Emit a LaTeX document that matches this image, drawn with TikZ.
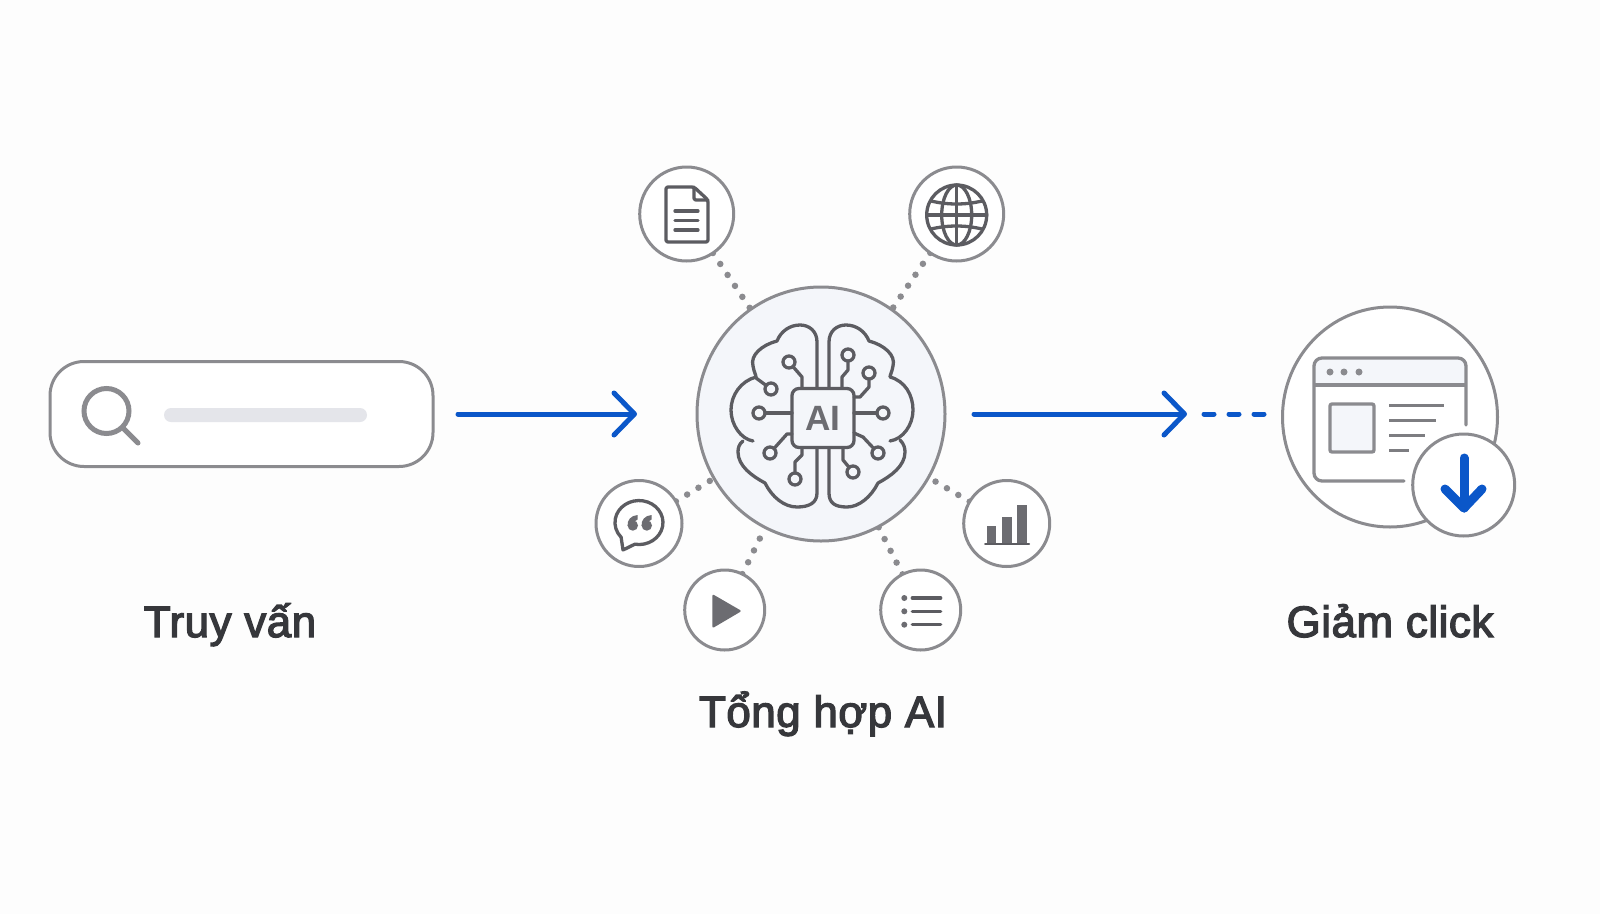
\documentclass[tikz,border=0pt]{standalone}
\usepackage{fontspec}
\setmainfont{Liberation Sans}
\newfontfamily\labelfont[FakeBold=3,LetterSpace=1.2]{Liberation Sans}
\usetikzlibrary{arrows.meta,backgrounds,calc,shapes.geometric}
\definecolor{pagebg}{HTML}{FDFDFD}
\definecolor{ringcol}{HTML}{8B8B8F}
\definecolor{iconcol}{HTML}{5C5C61}
\definecolor{softcol}{HTML}{F4F6FA}
\definecolor{barcol}{HTML}{E4E5EA}
\definecolor{flowcol}{HTML}{0B57C9}
\definecolor{labelcol}{HTML}{36373B}
\tikzstyle{ring} = [circle, draw=ringcol, line width=.3mm, fill=white, inner sep=0pt, outer sep=0pt]
\tikzstyle{iconline} = [draw=iconcol, line width=.33mm, line join=round, line cap=round]
\tikzstyle{iconfill} = [fill=iconcol!90!white]
\tikzstyle{pin} = [iconline, fill=softcol, circle, minimum size=1.2mm, inner sep=0pt]
\tikzstyle{dotline} = [draw=ringcol, line width=.65mm, line cap=round, dash pattern=on 0pt off 1.32mm]
\tikzstyle{flow} = [draw=flowcol, line width=.5mm, line cap=round, -{Straight Barb[length=2.05mm,width=4.2mm,round]}]
\tikzstyle{steplabel} = [anchor=base, text=labelcol, inner sep=0pt, font=\fontsize{12.5}{14}\selectfont\labelfont]
\begin{document}
\begin{tikzpicture}[x=.1mm,y=-.1mm]
\useasboundingbox (0,0) rectangle (1600,914);
% search box
\node (box) [ring, rectangle, rounded corners=3.4mm, minimum width=38.3mm, minimum height=10.5mm] at (241.5,414) {};
\draw [draw=ringcol, line width=.5mm] (106.5,411) circle (22.5);
\draw [draw=ringcol, line width=.5mm, line cap=round] (123,428)--(138,443);
\fill [barcol, rounded corners=.7mm] (164,408) rectangle (367,422);
% middle nodes
\node (big) [ring, ellipse, fill=softcol, minimum width=24.8mm, minimum height=25.4mm] at (821,414) {};
\node (doc) [ring, minimum size=9.4mm] at (686.7,214) {};
\node (globe) [ring, minimum size=9.4mm] at (956.7,214) {};
\node (quote) [ring, minimum size=8.6mm] at (639,523.5) {};
\node (bars) [ring, minimum size=8.6mm] at (1006.7,523.5) {};
\node (play) [ring, minimum size=8mm] at (724.7,610) {};
\node (list) [ring, minimum size=8mm] at (920.7,610) {};
% right node
\node (web) [ring, ellipse, minimum width=21.5mm, minimum height=22mm] at (1390,417) {};
\coordinate (tip) at (1187,414);
\coordinate (webin) at (1283,414);
\begin{pgfonlayer}{background}
\fill [pagebg] (0,0) rectangle (1600,914);
\draw [dotline] (doc)--(big);
\draw [dotline] (globe)--(big);
\draw [dotline] (quote)--(big);
\draw [dotline] (bars)--(big);
\draw [dotline] (play)--(big);
\draw [dotline] (list)--(big);
\end{pgfonlayer}
% flow
\draw [flow, shorten <=2.5mm, shorten >=6mm] (box.east)--(big.west);
\draw [flow, shorten <=2.9mm] (big.east)--(tip);
\draw [draw=flowcol, line width=.5mm, line cap=round, dash pattern=on 1mm off 1.5mm, shorten <=1.7mm, shorten >=1.6mm] (tip)--(webin);
% brain
\draw [iconline] (817,387)--(817,342) .. controls (817,331) and (809,325) .. (800,325) .. controls (790,325) and (781,331) .. (777,341) .. controls (762,345) and (750,355) .. (753,366) .. controls (754,372) and (756,375) .. (756,377) .. controls (741,381) and (731,395) .. (731,410) .. controls (731,425) and (741,439) .. (753,441);
\draw [iconline] (743,441) .. controls (739,444) and (738,448) .. (738,452) .. controls (738,466) and (752,476) .. (765,483) .. controls (772,497) and (784,507) .. (797,507) .. controls (809,507) and (817,503) .. (817,493)--(817,448);
\draw [iconline] (829,387)--(829,342) .. controls (829,331) and (837,325) .. (846,325) .. controls (856,325) and (865,331) .. (869,341) .. controls (884,345) and (896,355) .. (893,366) .. controls (892,372) and (890,375) .. (890,377) .. controls (905,381) and (913,395) .. (913,410) .. controls (913,425) and (903,439) .. (890,441);
\draw [iconline] (900,440) .. controls (904,444) and (905,448) .. (905,452) .. controls (905,466) and (891,476) .. (878,483) .. controls (871,497) and (859,507) .. (847,507) .. controls (835,507) and (829,503) .. (829,493)--(829,448);
\node (ai) [draw=iconcol, line width=.33mm, fill=softcol, rounded corners=.7mm, minimum width=6.2mm, minimum height=5.9mm, inner sep=0pt, outer sep=0pt, text=iconcol!90!white, font=\fontsize{10}{12}\selectfont\bfseries] at (823,418) {AI};
% circuit
\draw [iconline] (789,362)--(802,377)--(802,388);
\draw [iconline] (771,389)--(756,378);
\draw [iconline] (759,413)--(792,413);
\draw [iconline] (770,453)--(787,434)--(792,434);
\draw [iconline] (795,479)--(795,462)--(802,455)--(802,448);
\draw [iconline] (848,355)--(848,370)--(842,377)--(842,388);
\draw [iconline] (869,373)--(869,387)--(860,397)--(854,397);
\draw [iconline] (883,413)--(854,413);
\draw [iconline] (878,453)--(863,437)--(854,433);
\draw [iconline] (853,472)--(843,460)--(843,448);
\node (c1) [pin] at (789,362) {};
\node (c2) [pin] at (771,389) {};
\node (c3) [pin] at (759,413) {};
\node (c4) [pin] at (770,453) {};
\node (c5) [pin] at (795,479) {};
\node (c6) [pin] at (848,355) {};
\node (c7) [pin] at (869,373) {};
\node (c8) [pin] at (883,413) {};
\node (c9) [pin] at (878,453) {};
\node (c10) [pin] at (853,472) {};
% doc icon
\draw [iconline, rounded corners=.2mm] (694,187)--(666,187)--(666,242)--(708,242)--(708,200)--cycle;
\draw [iconline, rounded corners=.2mm] (694,187)--(694,200)--(708,200);
\draw [iconline] (675,211)--(698,211);
\draw [iconline] (675,220.5)--(698,220.5);
\draw [iconline] (675,230)--(698,230);
% globe icon
\draw [iconline] (956.7,215) circle (30);
\draw [iconline] (956.7,215) ellipse (15 and 30);
\draw [iconline] (956.7,185)--(956.7,245);
\draw [iconline] (926.7,215)--(986.7,215);
\draw [iconline] (931,201) .. controls (948,205) and (965,205) .. (982,201);
\draw [iconline] (931,229) .. controls (948,225) and (965,225) .. (982,229);
% quote icon
\draw [iconline] (634.8,544.2) arc [start angle=100, end angle=-222, x radius=24, y radius=22]--(623,550)--cycle;
\fill [iconfill] (632.8,525.5) circle (5.2);
\fill [iconfill] (627.6,526) .. controls (627,520) and (631,515.5) .. (637.5,515)--(637.5,519.5) .. controls (635,520) and (634.5,522) .. (634.5,524)--cycle;
\fill [iconfill] (646.8,525.5) circle (5.2);
\fill [iconfill] (641.6,526) .. controls (641,520) and (645,515.5) .. (651.5,515)--(651.5,519.5) .. controls (649,520) and (648.5,522) .. (648.5,524)--cycle;
% bars icon
\fill [iconfill] (987,526) rectangle (996,543);
\fill [iconfill] (1002,517) rectangle (1011.5,543);
\fill [iconfill] (1017,505) rectangle (1026.5,543);
\draw [iconline, line width=.2mm] (985,543.5)--(1029,543.5);
% play icon
\fill [iconfill, rounded corners=.2mm] (712.3,594)--(741.7,611)--(712.3,628.3)--cycle;
% list icon
\foreach \y in {598,611.3,624.7} {
\fill [iconfill] (904.3,\y) circle (3);
\draw [iconline] (912.3,\y)--(940.7,\y);
}
% page icon
\fill [softcol] (1314,385) -- (1314,366) arc [start angle=180, end angle=270, radius=8] -- (1458,358) arc [start angle=270, end angle=360, radius=8] -- (1466,385) -- cycle;
\draw [draw=ringcol, line width=.33mm, line cap=round] (1466,425)--(1466,366) arc [start angle=0, end angle=-90, radius=8]--(1322,358) arc [start angle=-90, end angle=-180, radius=8]--(1314,473) arc [start angle=180, end angle=90, radius=8]--(1404,481);
\draw [draw=ringcol, line width=.33mm] (1314,385)--(1466,385);
\foreach \x in {1330,1344,1359} \fill [ringcol] (\x,372) circle (3.5);
\draw [draw=ringcol, line width=.33mm, fill=softcol, rounded corners=.2mm] (1330,404) rectangle (1374,452);
\draw [draw=iconcol!80!white, line width=.3mm] (1389,405)--(1444,405);
\draw [draw=iconcol!80!white, line width=.3mm] (1389,420)--(1436,420);
\draw [draw=iconcol!80!white, line width=.3mm] (1389,435)--(1425,435);
\draw [draw=iconcol!80!white, line width=.3mm] (1389,450)--(1409,450);
\node (down) [ring, minimum size=10.2mm] at (1463.7,485) {};
\draw [draw=flowcol, line width=.9mm, line cap=round, line join=round] (1464,458)--(1464,508);
\draw [draw=flowcol, line width=.9mm, line cap=round, line join=round] (1445,489)--(1464,508)--(1482,489);
% labels
\node (qlabel) [steplabel] at (230,637) {Truy vấn};
\node (ailabel) [steplabel] at (823,727) {Tổng hợp AI};
\node (clabel) [steplabel] at (1390,637) {Giảm click};
\end{tikzpicture}
\end{document}
